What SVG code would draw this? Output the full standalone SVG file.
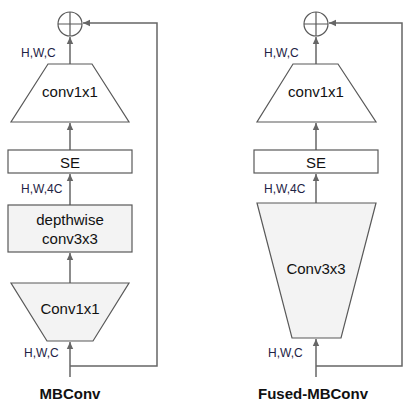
<svg xmlns="http://www.w3.org/2000/svg" width="411" height="413" viewBox="0 0 411 413">
<style>
.ln{fill:none;stroke:#666;stroke-width:1.5}
.sh{stroke:#595959;stroke-width:1.2}
.w{fill:#fff}
.g{fill:#f3f3f3}
.t{font-family:"Liberation Sans",Arial,sans-serif;font-size:15px;fill:#111;text-anchor:middle}
.lb{font-family:"Liberation Sans",Arial,sans-serif;font-size:12px;fill:#1e2345}
.ti{font-family:"Liberation Sans",Arial,sans-serif;font-size:15px;font-weight:bold;fill:#111;text-anchor:middle}
</style>
<defs>
<marker id="ah" markerWidth="8" markerHeight="8" refX="7" refY="4" orient="auto" markerUnits="userSpaceOnUse">
<path d="M0,0.8 L7,4 L0,7.2 Z" fill="#666"/>
</marker>
</defs>
<rect width="411" height="413" fill="#fff"/>
<g id="connectors">
<path class="ln" d="M70,377 V342" marker-end="url(#ah)"/>
<path class="ln" d="M70,283 V253" marker-end="url(#ah)"/>
<path class="ln" d="M70,205 V174" marker-end="url(#ah)"/>
<path class="ln" d="M70,150 V123" marker-end="url(#ah)"/>
<path class="ln" d="M70,64 V37" marker-end="url(#ah)"/>
<path class="ln" d="M70,366 H157 V23 H83" marker-end="url(#ah)"/>
<path class="ln" d="M316,377 V339" marker-end="url(#ah)"/>
<path class="ln" d="M316,203 V174" marker-end="url(#ah)"/>
<path class="ln" d="M316,150 V123" marker-end="url(#ah)"/>
<path class="ln" d="M316,64 V37" marker-end="url(#ah)"/>
<path class="ln" d="M316,366 H402 V23 H329" marker-end="url(#ah)"/>
</g>
<g id="mb-add">
<circle cx="70" cy="24" r="12" class="w sh"/>
<path class="sh" d="M58,24 H82 M70,12 V36"/>
</g>
<g id="mb-conv1x1-top">
<polygon points="48,64 92,64 129,122 11,122" class="w sh"/>
<text class="t" x="70" y="97">conv1x1</text>
</g>
<g id="mb-se">
<rect x="8" y="150" width="124" height="23" class="w sh"/>
<text class="t" x="70" y="168">SE</text>
</g>
<g id="mb-depthwise">
<rect x="8" y="205" width="124" height="47" class="g sh"/>
<text class="t" x="70" y="225">depthwise</text>
<text class="t" x="70" y="244">conv3x3</text>
</g>
<g id="mb-conv1x1-bottom">
<polygon points="11,283 129,283 93,341 47,341" class="g sh"/>
<text class="t" x="70" y="314">Conv1x1</text>
</g>
<g id="mb-labels">
<text class="lb" x="21" y="57">H,W,C</text>
<text class="lb" x="21" y="193">H,W,4C</text>
<text class="lb" x="24" y="357">H,W,C</text>
<text class="ti" x="70" y="399">MBConv</text>
</g>
<g id="f-add">
<circle cx="316" cy="24" r="12" class="w sh"/>
<path class="sh" d="M304,24 H328 M316,12 V36"/>
</g>
<g id="f-conv1x1-top">
<polygon points="293,64 338,64 376,122 257,122" class="w sh"/>
<text class="t" x="316" y="97">conv1x1</text>
</g>
<g id="f-se">
<rect x="254" y="150" width="124" height="23" class="w sh"/>
<text class="t" x="316" y="168">SE</text>
</g>
<g id="f-conv3x3">
<polygon points="257,203 376,203 341,338 292,338" class="g sh"/>
<text class="t" x="316" y="274">Conv3x3</text>
</g>
<g id="f-labels">
<text class="lb" x="264" y="57">H,W,C</text>
<text class="lb" x="264" y="193">H,W,4C</text>
<text class="lb" x="268" y="357">H,W,C</text>
<text class="ti" x="313" y="399">Fused-MBConv</text>
</g>
</svg>
